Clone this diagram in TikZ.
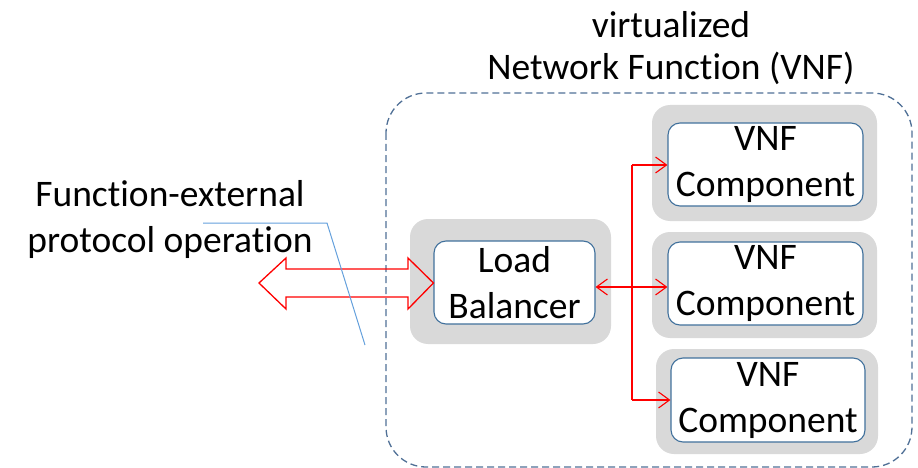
\documentclass[tikz,border=0pt]{standalone}
\usepackage{fontspec}
\setmainfont{Carlito}[Ligatures=NoCommon]
\usetikzlibrary{arrows.meta}
\definecolor{dashblue}{RGB}{80,112,150}
\definecolor{boxblue}{RGB}{65,113,156}
\definecolor{graybg}{RGB}{217,217,217}
\definecolor{lineblue}{RGB}{100,160,220}
\definecolor{arrred}{RGB}{255,0,0}
\begin{document}
\begin{tikzpicture}[x=1pt,y=-1pt,
  lbl/.style={font=\fontsize{37.5}{46}\selectfont, align=center, inner sep=0pt},
  graybox/.style={fill=graybg, rounded corners=18pt, draw=none, inner sep=0pt},
  compbox/.style={fill=white, draw=boxblue, line width=1.1pt, rounded corners=12pt,
     inner sep=0pt, font=\fontsize{37.5}{46}\selectfont, align=center},
  conn/.style={draw=arrred, line width=1.1pt},
  tip/.style={-{Straight Barb[length=11pt,width=16pt,line width=1.1pt]}}
]
\useasboundingbox (0,0) rectangle (918,468);
% container
\draw[dashblue, line width=1.3pt, dash pattern=on 7pt off 4pt, rounded corners=40pt]
  (386,93) rectangle (912,467);
% titles
\node[lbl, font=\fontsize{37.5}{42}\selectfont] (title) at (671,48) {virtualized\\Network Function (VNF)};
\node[lbl] (ext) at (170,220) {Function-external\\protocol operation};
% gray backgrounds
\node[graybox, minimum width=201pt, minimum height=125pt] (lbg) at (510.5,281.5) {};
\node[graybox, minimum width=225pt, minimum height=116pt] (g1) at (764.5,163) {};
\node[graybox, minimum width=225pt, minimum height=106pt] (g2) at (764.5,285) {};
\node[graybox, minimum width=222pt, minimum height=105pt] (g3) at (767,401.5) {};
% components
\node[compbox, minimum width=161pt, minimum height=83pt] (lb) at (514.5,282.5) {Load\\Balancer};
\node[compbox, minimum width=195pt, minimum height=83pt] (v1) at (765.5,164.5) {VNF\\Component};
\node[compbox, minimum width=195pt, minimum height=83pt] (v2) at (765.5,283.5) {VNF\\Component};
\node[compbox, minimum width=194pt, minimum height=84pt] (v3) at (768,400) {VNF\\Component};
% bus
\coordinate (b1) at (632,165);
\coordinate (b2) at (632,287);
\coordinate (b3) at (632,400);
\draw[conn] (b1) -- (b3);
\draw[conn, tip] (b1) -- (b1 -| v1.west);
\draw[conn, tip] (b3) -- (b3 -| v3.west);
\draw[conn, tip] (b2) -- (b2 -| v2.west);
\draw[conn, tip] (b2) -- (b2 -| lb.east);
% hollow double arrow
\coordinate (al) at (259,283);
\draw[arrred, line width=1.3pt, line join=miter]
  (al) -- (286,258) -- (286,269) -- (408,269) -- (408,258) -- (lb.west |- al)
  -- (408,309) -- (408,297) -- (286,297) -- (286,309) -- cycle;
% blue callout line
\coordinate (c1) at (203,223);
\coordinate (c2) at (327,223);
\coordinate (c3) at (365,345);
\draw[lineblue, line width=1pt] (c1) -- (c2) -- (c3);
\end{tikzpicture}
\end{document}
